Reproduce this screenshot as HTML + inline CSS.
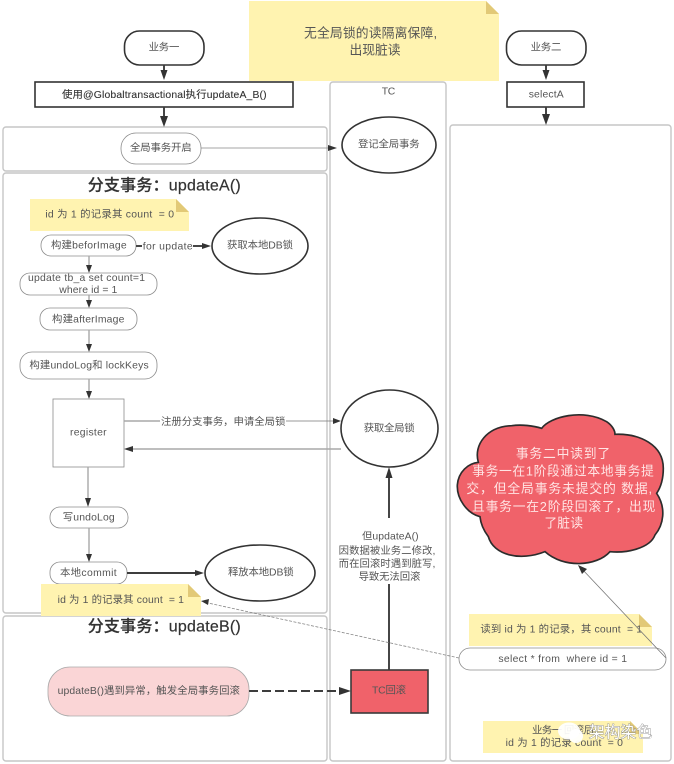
<!DOCTYPE html>
<html><head><meta charset="utf-8"><style>
html,body{margin:0;padding:0;background:#fff;width:674px;height:764px;overflow:hidden}
svg{display:block}
text{font-family:"Liberation Sans","Noto Sans CJK SC",sans-serif;font-size:10.4px;fill:#555;text-anchor:middle;dominant-baseline:central}
.box{fill:#fff;stroke:#c6c6c6;stroke-width:1.4}
.node{fill:#fff;stroke:#8c8c8c;stroke-width:.8}
.dark{fill:#fff;stroke:#333;stroke-width:1.6}
.note{fill:#fff3b0}
.fold{fill:#e2c977}
.line{stroke:#a8a8a8;stroke-width:1.4;fill:none}
.thick{stroke:#3d3d3d;stroke-width:1.9;fill:none}
.arr{fill:#333}
.title{font-size:16px;fill:#333;font-weight:500;stroke:#333;stroke-width:.2}
.c{font-size:12.8px;fill:#ffe4e4}
</style></head><body>
<svg width="674" height="764" viewBox="0 0 674 764" xmlns="http://www.w3.org/2000/svg">
<rect width="674" height="764" fill="#fff"/>
<rect class="box" x="3" y="127" width="324" height="44" rx="3"/>
<rect class="box" x="3" y="173" width="324" height="440" rx="3"/>
<rect class="box" x="3" y="616" width="324" height="145" rx="3"/>
<rect class="box" x="330" y="82" width="116" height="679" rx="3"/>
<rect class="box" x="450" y="125" width="221" height="636" rx="3"/>

<path class="note" d="M249 1H486L499 14V81H249Z"/><path class="fold" d="M486 1L499 14H486Z"/>
<text x="370.500" y="33" style="font-size:12.800px" textLength="133">无全局锁的读隔离保障,</text>
<text x="375" y="50" style="font-size:12.800px" textLength="51">出现脏读</text>

<rect class="dark" x="124.500" y="31" width="79.500" height="34" rx="15"/>
<text x="164" y="48" textLength="30.700">业务一</text>
<rect class="dark" x="35" y="82" width="258" height="25" stroke-width="1.8"/>
<text x="164.300" y="95.500" textLength="204.700" style="fill:#333;stroke:#333;stroke-width:.12">使用@Globaltransactional执行updateA_B()</text>
<line class="thick" x1="164" y1="65" x2="164" y2="72"/><polygon class="arr" points="160.500,70 167.500,70 164,80"/>
<line class="thick" x1="164" y1="107" x2="164" y2="118"/><polygon class="arr" points="160,116 168,116 164,127"/>

<rect class="dark" x="506.500" y="31" width="79.500" height="34" rx="15"/>
<text x="546" y="48" textLength="30.700">业务二</text>
<rect class="dark" x="507" y="82" width="77" height="25"/>
<text x="546.200" y="95" textLength="35">selectA</text>
<line class="thick" x1="546" y1="65" x2="546" y2="72"/><polygon class="arr" points="542.500,70 549.500,70 546,80"/>
<line class="thick" x1="546" y1="107" x2="546" y2="116"/><polygon class="arr" points="542,114 550,114 546,125"/>

<rect class="node" x="121" y="133" width="80" height="31" rx="15"/>
<text x="160.800" y="148.500" textLength="61.700">全局事务开启</text>
<line x1="201" y1="148" x2="330" y2="148" stroke="#888" stroke-width=".8"/>
<polygon class="arr" points="328,145 337,148 328,151"/>
<ellipse class="dark" cx="389" cy="145" rx="47" ry="28" stroke-width="1.2"/>
<text x="388.800" y="145" textLength="61.700">登记全局事务</text>
<text x="388.500" y="92" textLength="13.600">TC</text>

<text x="164.200" y="186" class="title" textLength="153">分支事务：updateA()</text>
<path class="note" d="M30 199H176L189 212V231H30Z"/><path class="fold" d="M176 199L189 212H176Z"/>
<text x="109.700" y="215" textLength="128.700" style="white-space:pre">id 为 1 的记录其 count  = 0</text>

<rect class="node" x="41" y="235" width="95" height="21" rx="10"/>
<text x="88.800" y="246" textLength="75.700">构建beforImage</text>
<line class="thick" x1="136" y1="246" x2="142" y2="246"/>
<text x="167.700" y="247" textLength="50">for update</text>
<line class="thick" x1="193" y1="246" x2="204" y2="246"/><polygon class="arr" points="202,243 211,246 202,249"/>
<ellipse class="dark" cx="260" cy="246" rx="48" ry="28" stroke-width="1.4"/>
<text x="260" y="246" textLength="66">获取本地DB锁</text>

<line class="line" x1="89" y1="256" x2="89" y2="266"/><polygon class="arr" points="86,265 92,265 89,273"/>
<rect class="node" x="20" y="273" width="137" height="22" rx="10"/>
<text x="86.500" y="278.500" textLength="117">update tb_a set count=1</text>
<text x="88.300" y="290.500" textLength="58">where id = 1</text>
<line class="line" x1="89" y1="295" x2="89" y2="301"/><polygon class="arr" points="86,300 92,300 89,308"/>
<rect class="node" x="40" y="308" width="97" height="22" rx="10"/>
<text x="88.200" y="320" textLength="72.300">构建afterImage</text>
<line class="line" x1="89" y1="330" x2="89" y2="345"/><polygon class="arr" points="86,344 92,344 89,352"/>
<rect class="node" x="20" y="352" width="137" height="27" rx="12"/>
<text x="89" y="366" textLength="119.300">构建undoLog和 lockKeys</text>
<line class="line" x1="89" y1="379" x2="89" y2="392"/><polygon class="arr" points="86,391 92,391 89,399"/>
<rect class="node" x="53" y="399" width="71" height="68"/>
<text x="88.300" y="433" textLength="36.700">register</text>
<line class="line" x1="124" y1="421" x2="160" y2="421"/>
<text x="223.200" y="422.500" textLength="124.300">注册分支事务，申请全局锁</text>
<line x1="286" y1="421" x2="335" y2="421" stroke="#777" stroke-width=".8"/>
<polygon class="arr" points="333,418 341,421 333,424"/>
<line class="line" x1="341" y1="449" x2="131" y2="449"/>
<polygon class="arr" points="133,446 124,449 133,452"/>
<ellipse class="dark" cx="389.500" cy="428.500" rx="48.500" ry="38.500" stroke-width="1.2"/>
<text x="389.200" y="429" textLength="51">获取全局锁</text>

<line class="line" x1="88" y1="467" x2="88" y2="499"/><polygon class="arr" points="85,498 91,498 88,507"/>
<rect class="node" x="50" y="507" width="78" height="21" rx="10"/>
<text x="88.700" y="518" textLength="52">写undoLog</text>
<line class="line" x1="89" y1="528" x2="89" y2="555"/><polygon class="arr" points="86,554 92,554 89,562"/>
<rect class="node" x="50" y="562" width="77" height="22" rx="10"/>
<text x="88.300" y="573.500" textLength="56.700">本地commit</text>
<line class="thick" x1="127" y1="573" x2="197" y2="573"/><polygon class="arr" points="195,570 204,573 195,576"/>
<ellipse class="dark" cx="260" cy="573" rx="55" ry="28" stroke-width="1.4"/>
<text x="260.800" y="573" textLength="65.700">释放本地DB锁</text>

<path class="note" d="M41 584H188L201 597V616H41Z"/><path class="fold" d="M188 584L201 597H188Z"/>
<text x="120.800" y="600.500" textLength="126.300" style="white-space:pre">id 为 1 的记录其 count  = 1</text>

<text x="164.200" y="627" class="title" textLength="153">分支事务：updateB()</text>
<rect x="48" y="667" width="201" height="49" rx="22" fill="#fad5d6" stroke="#aaa" stroke-width=".8"/>
<text x="148.800" y="691.300" textLength="182.300">updateB()遇到异常，触发全局事务回滚</text>
<line x1="249" y1="691" x2="342" y2="691" stroke="#3d3d3d" stroke-width="1.9" stroke-dasharray="9 4"/>
<polygon class="arr" points="339,687 351,691 339,695"/>
<rect x="351" y="670" width="77" height="43" fill="#f0626a" stroke="#3a3a3a" stroke-width="1.6"/>
<text x="389" y="691" textLength="34">TC回滚</text>

<line class="thick" x1="389" y1="670" x2="389" y2="584"/>
<line class="thick" x1="389" y1="518" x2="389" y2="476"/>
<polygon class="arr" points="385.500,478 392.500,478 389,467"/>
<text x="390.300" y="537" textLength="56.700">但updateA()</text>
<text x="387" y="551.500" textLength="96.700">因数据被业务二修改,</text>
<text x="387" y="564.500" textLength="96.700">而在回滚时遇到脏写,</text>
<text x="389.500" y="577.500" textLength="61.700">导致无法回滚</text>

<g transform="translate(450,405) scale(.3333)">
<path d="M22 240C25 200 55 175 85 172C70 120 110 65 185 62C215 58 250 62 275 70C300 35 400 10 470 50C485 60 495 75 495 88C570 85 640 120 640 190C640 225 630 250 620 265C650 310 640 360 615 390C600 430 530 445 480 440C440 485 340 490 285 440C210 470 130 450 115 395C100 375 92 355 90 335C50 325 20 280 22 240Z" fill="#f0626a" stroke="#2c2c2c" stroke-width="5"/>
</g>
<text class="c" x="563" y="453.500" textLength="94.300">事务二中读到了</text>
<text class="c" x="563" y="471" textLength="181.700">事务一在1阶段通过本地事务提</text>
<text class="c" x="559.200" y="488.500" textLength="185.700">交，但全局事务未提交的 数据,</text>
<text class="c" x="563.700" y="506.500" textLength="183.300">且事务一在2阶段回滚了，出现</text>
<text class="c" x="563.700" y="523" textLength="38.700">了脏读</text>

<path class="note" d="M469 614H639L652 627V646H469Z"/><path class="fold" d="M639 614L652 627H639Z"/>
<text x="561.200" y="630" textLength="161.700" style="white-space:pre">读到 id 为 1 的记录，其 count  = 1</text>
<rect class="node" x="459" y="648" width="207" height="22" rx="11"/>
<text x="562.700" y="659.500" textLength="128.700" style="white-space:pre">select * from  where id = 1</text>
<line x1="666" y1="658" x2="582" y2="569" stroke="#777" stroke-width=".8"/>
<polygon class="arr" points="578,565 587,569 582,574"/>
<line x1="459" y1="658" x2="208" y2="603" stroke="#888" stroke-width=".8" stroke-dasharray="3 1.500"/>
<polygon class="arr" points="201,601 209,599 208,605"/>

<path class="note" d="M483 721H630L643 734V753H483Z"/><path class="fold" d="M630 721L643 734H630Z"/>
<text x="563" y="731" textLength="62">业务一 回滚后</text>
<text x="564.300" y="743.300" textLength="117.300" style="white-space:pre">id 为 1 的记录 count  = 0</text>
<ellipse cx="569" cy="731" rx="11" ry="8.500" fill="#fff" opacity=".93"/>
<circle cx="576" cy="736" r="7" fill="#fff" opacity=".95"/>
<text x="620.500" y="733" textLength="63.500" style="font-size:15.800px;fill:#fff;stroke:#777;stroke-width:.7;paint-order:stroke">架构染色</text>
</svg>
</body></html>
